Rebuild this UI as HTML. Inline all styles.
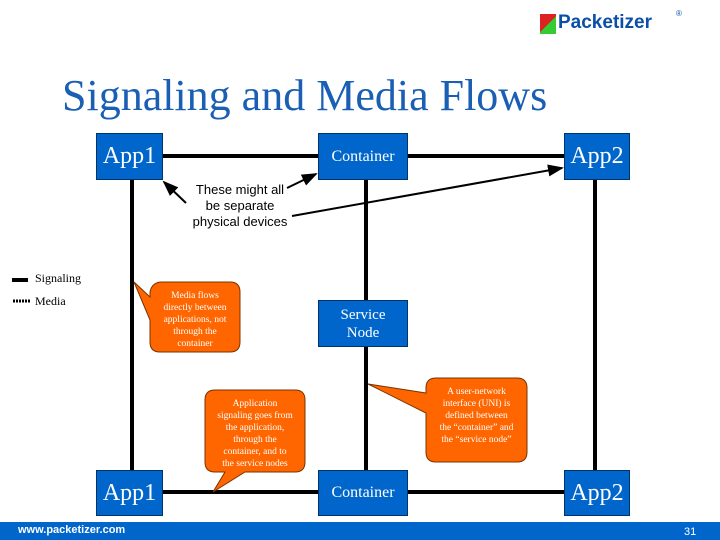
<!DOCTYPE html>
<html><head><style>
body{margin:0;width:720px;height:540px;background:#fff;position:relative;overflow:hidden;font-family:"Liberation Serif",serif}
.b{position:absolute;background:#0066cc;border:1px solid #003366;color:#fff;display:flex;align-items:center;justify-content:center;box-sizing:border-box}
.c{position:absolute;text-align:center;font-size:9.5px;line-height:12px;color:#fff;white-space:nowrap}
</style></head><body>
<svg width="720" height="540" style="position:absolute;left:0;top:0">
<defs><marker id="a" markerWidth="8" markerHeight="6" refX="7" refY="3" orient="auto"><path d="M0,0L8,3L0,6z" fill="#000"/></marker></defs>
<g stroke="#000" stroke-width="4">
<line x1="163" y1="156" x2="564" y2="156"/>
<line x1="96" y1="492" x2="630" y2="492"/>
<line x1="132" y1="180" x2="132" y2="470"/>
<line x1="366" y1="180" x2="366" y2="470"/>
<line x1="595" y1="180" x2="595" y2="470"/>
<line x1="12" y1="280" x2="28" y2="280"/>
</g>
<line x1="13" y1="301" x2="30" y2="301" stroke="#000" stroke-width="3" stroke-dasharray="2,1"/>
<g stroke="#000" stroke-width="2" marker-end="url(#a)">
<line x1="186" y1="203" x2="164" y2="182"/>
<line x1="287" y1="188" x2="316" y2="174"/>
<line x1="292" y1="216" x2="562" y2="168"/>
</g>
<g fill="#ff6600" stroke="#7a3300" stroke-width="1">
<path d="M162,282 H230 Q240,282 240,292 V342 Q240,352 230,352 H160 Q150,352 150,342 V320 L134,282 L150,297 V292 Q152,282 162,282Z"/>
<path d="M215,390 H295 Q305,390 305,400 V462 Q305,472 295,472 H245 L213,492 L225,472 H215 Q205,472 205,462 V400 Q205,390 215,390Z"/>
<path d="M436,378 H517 Q527,378 527,388 V452 Q527,462 517,462 H436 Q426,462 426,452 V413 L368,384 L426,393 V388 Q426,378 436,378Z"/>
</g>
</svg>
<div style="position:absolute;left:540px;top:14px;width:16px;height:20px;background:linear-gradient(135deg,#d22 50%,#3c3 50%)"></div>
<div style="position:absolute;left:558px;top:12px;font:bold 19px 'Liberation Sans',sans-serif;color:#0a4fa8">Packetizer</div>
<div style="position:absolute;left:676px;top:9px;font:8px 'Liberation Sans',sans-serif;color:#0a4fa8">®</div>
<div style="position:absolute;left:62px;top:70px;font-size:44px;color:#1a5fb4;white-space:nowrap">Signaling and Media Flows</div>
<div class="b" style="left:96px;top:133px;width:67px;height:47px;font-size:24px">App1</div>
<div class="b" style="left:318px;top:133px;width:90px;height:47px;font-size:16px">Container</div>
<div class="b" style="left:564px;top:133px;width:66px;height:47px;font-size:24px">App2</div>
<div class="b" style="left:318px;top:300px;width:90px;height:47px;font-size:15px;text-align:center;line-height:18px">Service<br>Node</div>
<div class="b" style="left:96px;top:470px;width:67px;height:46px;font-size:24px">App1</div>
<div class="b" style="left:318px;top:470px;width:90px;height:46px;font-size:16px">Container</div>
<div class="b" style="left:564px;top:470px;width:66px;height:46px;font-size:24px">App2</div>
<div style="position:absolute;left:180px;top:182px;width:120px;text-align:center;font:13px/16px 'Liberation Sans',sans-serif;white-space:nowrap">These might all<br>be separate<br>physical devices</div>
<div style="position:absolute;left:35px;top:271px;font-size:12px">Signaling</div>
<div style="position:absolute;left:35px;top:294px;font-size:12px">Media</div>
<div class="c" style="left:150px;top:290px;width:90px">Media flows<br>directly between<br>applications, not<br>through the<br>container</div>
<div class="c" style="left:205px;top:398px;width:100px">Application<br>signaling goes from<br>the application,<br>through the<br>container, and to<br>the service nodes</div>
<div class="c" style="left:426px;top:386px;width:101px">A user-network<br>interface (UNI) is<br>defined between<br>the “container” and<br>the “service node”</div>
<div style="position:absolute;left:0;top:522px;width:720px;height:18px;background:#0066cc"></div>
<div style="position:absolute;left:18px;top:524px;font:bold 11px 'Liberation Sans',sans-serif;color:#fff">www.packetizer.com</div>
<div style="position:absolute;left:684px;top:526px;font:11px 'Liberation Sans',sans-serif;color:#fff">31</div>
</body></html>
